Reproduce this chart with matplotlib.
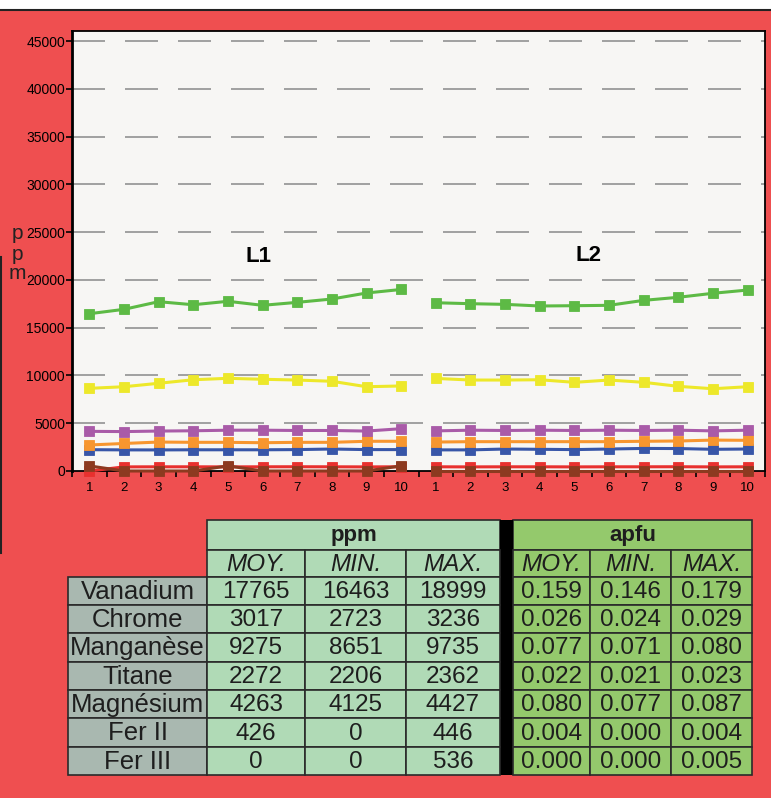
import matplotlib
matplotlib.use("Agg")
import matplotlib.pyplot as plt
from matplotlib.patches import Rectangle
from matplotlib.lines import Line2D

plt.rcParams['lines.scale_dashes'] = False

# x labels: two sessions L1 and L2, 10 points each
labels = [1, 2, 3, 4, 5, 6, 7, 8, 9, 10]

# ppm values per point
vanadium_l1 = [16460, 16920, 17720, 17400, 17760, 17340, 17650, 18000, 18630, 18999]
vanadium_l2 = [17610, 17510, 17440, 17270, 17300, 17340, 17860, 18180, 18600, 18940]
manganese_l1 = [8651, 8820, 9180, 9550, 9700, 9600, 9520, 9390, 8820, 8900]
manganese_l2 = [9690, 9520, 9520, 9550, 9280, 9520, 9280, 8860, 8610, 8820]
magnesium_l1 = [4150, 4125, 4180, 4210, 4270, 4270, 4240, 4240, 4180, 4427]
magnesium_l2 = [4200, 4270, 4240, 4270, 4240, 4270, 4240, 4270, 4200, 4270]
chrome_l1 = [2723, 2880, 3030, 3000, 3000, 2960, 3000, 3000, 3110, 3110]
chrome_l2 = [3030, 3070, 3070, 3070, 3070, 3070, 3110, 3140, 3236, 3210]
titane_l1 = [2230, 2210, 2206, 2220, 2220, 2220, 2240, 2300, 2240, 2240]
titane_l2 = [2210, 2210, 2300, 2270, 2240, 2300, 2362, 2350, 2270, 2300]
fer2_l1 = [0, 430, 440, 440, 430, 440, 446, 440, 430, 440]
fer2_l2 = [440, 430, 440, 440, 430, 440, 440, 446, 430, 440]
fer3_l1 = [536, 0, 0, 0, 536, 0, 0, 0, 0, 536]
fer3_l2 = [0, 0, 0, 0, 0, 0, 0, 0, 0, 0]

# summary table
elements = ['Vanadium', 'Chrome', 'Manganèse', 'Titane', 'Magnésium', 'Fer II', 'Fer III']
ppm_moy = ['17765', '3017', '9275', '2272', '4263', '426', '0']
ppm_min = ['16463', '2723', '8651', '2206', '4125', '0', '0']
ppm_max = ['18999', '3236', '9735', '2362', '4427', '446', '536']
apfu_moy = ['0.159', '0.026', '0.077', '0.022', '0.080', '0.004', '0.000']
apfu_min = ['0.146', '0.024', '0.071', '0.021', '0.077', '0.000', '0.000']
apfu_max = ['0.179', '0.029', '0.080', '0.023', '0.087', '0.004', '0.005']
col_heads = ['MOY.', 'MIN.', 'MAX.']

series = [
    (fer2_l1, fer2_l2, '#e8302e'),
    (fer3_l1, fer3_l2, '#8c3a20'),
    (titane_l1, titane_l2, '#3856a8'),
    (chrome_l1, chrome_l2, '#f7962f'),
    (magnesium_l1, magnesium_l2, '#a95ba8'),
    (manganese_l1, manganese_l2, '#ede82a'),
    (vanadium_l1, vanadium_l2, '#5dba45'),
]

W, H = 771, 798
fig = plt.figure(figsize=(W / 100, H / 100), dpi=100)
fig.patch.set_facecolor('#ef4f50')

# background axes in pixel coords
bg = fig.add_axes([0, 0, 1, 1])
bg.set_xlim(0, W)
bg.set_ylim(H, 0)
bg.axis('off')
bg.add_patch(Rectangle((0, 0), W, 10, facecolor='white', edgecolor='none'))
bg.add_line(Line2D([0, W], [10, 10], color='#222222', lw=1.5))
bg.add_line(Line2D([1, 1], [257, 553], color='#222222', lw=1.5))

# chart
ax = fig.add_axes([72 / W, 1 - 471 / H, (765 - 72) / W, (471 - 31) / H])
ax.set_facecolor('#f7f6f4')
x1 = list(range(0, 10))
x2 = list(range(10, 20))
for s1, s2, c in series:
    for xs, ys in ((x1, s1), (x2, s2)):
        ax.plot(xs, ys, color=c, lw=2.2, marker='s', markersize=7.5,
                markeredgecolor=c, markeredgewidth=0.6, clip_on=False, zorder=3)

ax.set_xlim(-0.5, 19.5)
ax.set_ylim(0, 46050)
ax.set_yticks(range(0, 45001, 5000))
ax.set_yticklabels([str(v) for v in range(0, 45001, 5000)], fontsize=10,
                   family='Liberation Sans')
ax.set_xticks(range(20))
ax.set_xticklabels([str(v) for v in labels + labels], fontsize=9.5,
                   family='Liberation Sans')
ax.set_xticks([i + 0.5 for i in range(-1, 20)], minor=True)
ax.tick_params(axis='x', which='major', length=0, pad=8)
ax.tick_params(axis='x', which='minor', length=4, width=1.2, direction='out')
ax.tick_params(axis='y', length=4, width=1.2, direction='out', pad=1)
for v in range(5000, 45001, 5000):
    ax.axhline(v, color='#a0a0a0', lw=1.4, linestyle=(0, (33 * 0.72, 20 * 0.72)),
               zorder=1)
ax.spines['left'].set_linewidth(2)
for sp in ['top', 'right', 'bottom']:
    ax.spines[sp].set_linewidth(1.3)

ax.text(4.87, 22400, 'L1', fontsize=16, fontweight='bold', ha='center', va='center',
        family='Liberation Sans')
ax.text(14.42, 22600, 'L2', fontsize=16, fontweight='bold', ha='center', va='center',
        family='Liberation Sans')
# stacked "ppm" axis label
for k, ch in enumerate('ppm'):
    fig.text(17 / W, 1 - (234 + 20 * k) / H, ch, fontsize=15, ha='center',
             va='center', family='Liberation Sans', color='#222222')

# table
tfont = ['Liberation Sans Narrow', 'Liberation Sans']
edge = '#2a2a2a'
ppm_x = [207, 305, 406, 500]
apfu_x = [513, 590, 671, 752]
rows_y = [577, 605, 633, 662, 690, 718, 747, 775]


def cell(x0, x1_, y0, y1, fc, txt, **kw):
    bg.add_patch(Rectangle((x0, y0), x1_ - x0, y1 - y0, facecolor=fc,
                           edgecolor=edge, lw=1.2))
    bg.text((x0 + x1_) / 2, (y0 + y1) / 2 + 1, txt, ha='center', va='center',
            color='#1e1e1e', family=tfont, **kw)


cell(207, 500, 520, 550, '#b0dab6', 'ppm', fontsize=16, fontweight='bold')
cell(513, 752, 520, 550, '#94c96c', 'apfu', fontsize=16, fontweight='bold')
bg.add_patch(Rectangle((500, 520), 13, 255, facecolor='black', edgecolor='none'))
for i, h in enumerate(col_heads):
    cell(ppm_x[i], ppm_x[i + 1], 550, 577, '#b0dab6', h, fontsize=17.5, style='italic')
    cell(apfu_x[i], apfu_x[i + 1], 550, 577, '#94c96c', h, fontsize=17.5, style='italic')

ppm_cols = [ppm_moy, ppm_min, ppm_max]
apfu_cols = [apfu_moy, apfu_min, apfu_max]
for r, name in enumerate(elements):
    y0, y1 = rows_y[r], rows_y[r + 1]
    cell(68, 207, y0, y1, '#a9b8b0', name, fontsize=18.5)
    for i in range(3):
        cell(ppm_x[i], ppm_x[i + 1], y0, y1, '#b0dab6', ppm_cols[i][r], fontsize=17.5)
        cell(apfu_x[i], apfu_x[i + 1], y0, y1, '#94c96c', apfu_cols[i][r], fontsize=17.5)

fig.savefig('out.png', dpi=100, facecolor=fig.get_facecolor())
